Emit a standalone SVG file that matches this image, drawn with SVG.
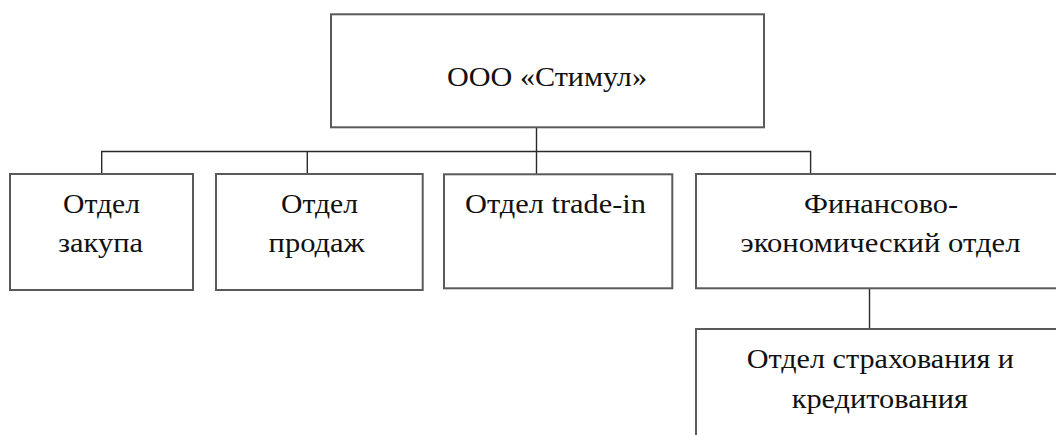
<svg xmlns="http://www.w3.org/2000/svg" width="1056" height="435" viewBox="0 0 1056 435">
<style>
.box{fill:#ffffff;stroke:#5a5a5a;stroke-width:2}
.lbl{font-family:"Liberation Serif","Times New Roman",serif;font-size:28px;fill:#111111}
.conn{fill:none;stroke:#2a2a2a;stroke-width:1.4}
</style>
<rect width="1056" height="435" fill="#ffffff"/>
<g id="connectors">
<path class="conn" d="M536.5 128 V174"/>
<path class="conn" d="M101.7 174 V151.5 H810.6 V174"/>
<path class="conn" d="M307.3 151.5 V174"/>
<path class="conn" d="M869.5 288 V329"/>
</g>
<g id="node-root">
<rect class="box" x="331" y="14.3" width="433" height="113"/>
<text class="lbl" x="447" y="86" textLength="200" lengthAdjust="spacingAndGlyphs">ООО «Стимул»</text>
</g>
<g id="node-zakup">
<rect class="box" x="10" y="174" width="183" height="116"/>
<text class="lbl" x="63" y="212.7" textLength="77" lengthAdjust="spacingAndGlyphs">Отдел</text>
<text class="lbl" x="58" y="251.7" textLength="85" lengthAdjust="spacingAndGlyphs">закупа</text>
</g>
<g id="node-prodazh">
<rect class="box" x="216" y="174" width="206.7" height="116"/>
<text class="lbl" x="281" y="212.7" textLength="77" lengthAdjust="spacingAndGlyphs">Отдел</text>
<text class="lbl" x="268.6" y="251.7" textLength="96" lengthAdjust="spacingAndGlyphs">продаж</text>
</g>
<g id="node-tradein">
<rect class="box" x="444" y="174.3" width="228.3" height="114"/>
<text class="lbl" x="465" y="213.3" textLength="181" lengthAdjust="spacingAndGlyphs">Отдел trade-in</text>
</g>
<g id="node-fin">
<rect class="box" x="696" y="174" width="370" height="114.3"/>
<text class="lbl" x="804" y="213" textLength="154" lengthAdjust="spacingAndGlyphs">Финансово-</text>
<text class="lbl" x="740.5" y="251.7" textLength="280" lengthAdjust="spacingAndGlyphs">экономический отдел</text>
</g>
<g id="node-strah">
<rect class="box" x="696" y="329" width="370" height="120"/>
<text class="lbl" x="746.7" y="367.5" textLength="267.3" lengthAdjust="spacingAndGlyphs">Отдел страхования и</text>
<text class="lbl" x="791.7" y="408.2" textLength="176.3" lengthAdjust="spacingAndGlyphs">кредитования</text>
</g>
</svg>
